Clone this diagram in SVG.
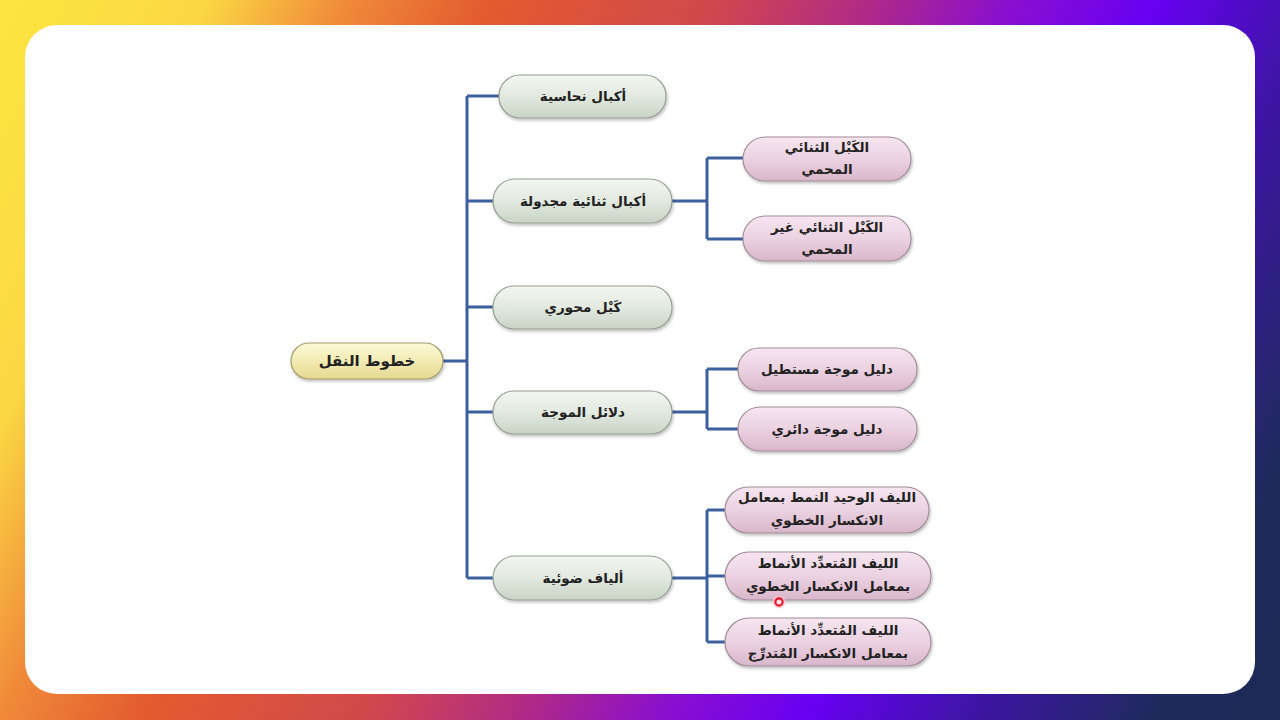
<svg xmlns="http://www.w3.org/2000/svg" width="1280" height="720" viewBox="0 0 1280 720">
<defs>
<linearGradient id="bg" gradientUnits="userSpaceOnUse" x1="0" y1="0" x2="1280" y2="622">
<stop offset="0" stop-color="#fde540"/>
<stop offset="0.13" stop-color="#fbd843"/>
<stop offset="0.22" stop-color="#f08a3a"/>
<stop offset="0.31" stop-color="#e35b2e"/>
<stop offset="0.45" stop-color="#d2484c"/>
<stop offset="0.55" stop-color="#b02a86"/>
<stop offset="0.64" stop-color="#8a0fcf"/>
<stop offset="0.73" stop-color="#6800f2"/>
<stop offset="0.83" stop-color="#3f14a8"/>
<stop offset="0.95" stop-color="#1e2a5c"/>
<stop offset="1" stop-color="#1d2a58"/>
</linearGradient>
<linearGradient id="gGreen" x1="0" y1="0" x2="0" y2="1">
<stop offset="0" stop-color="#f3f6f1"/>
<stop offset="0.5" stop-color="#e2e9df"/>
<stop offset="1" stop-color="#c8d4c5"/>
</linearGradient>
<linearGradient id="gPink" x1="0" y1="0" x2="0" y2="1">
<stop offset="0" stop-color="#f6e6f0"/>
<stop offset="0.5" stop-color="#ebd2e1"/>
<stop offset="1" stop-color="#d9b6cb"/>
</linearGradient>
<linearGradient id="gYellow" x1="0" y1="0" x2="0" y2="1">
<stop offset="0" stop-color="#fcf9d8"/>
<stop offset="0.5" stop-color="#f3ebb4"/>
<stop offset="1" stop-color="#e4d790"/>
</linearGradient>
<filter id="sh" x="-10%" y="-20%" width="120%" height="150%">
<feDropShadow dx="1" dy="2" stdDeviation="1.5" flood-color="#000" flood-opacity="0.25"/>
</filter>
</defs>
<style>
.lbl{font-family:"DejaVu Sans","Noto Sans",sans-serif;font-weight:bold;font-size:13.5px;fill:#222;text-anchor:middle;direction:rtl}
.root{font-size:15px}
.green{fill:url(#gGreen);stroke:#939d90;stroke-width:1.2;filter:url(#sh)}
.pink{fill:url(#gPink);stroke:#9f8c98;stroke-width:1.2;filter:url(#sh)}
.yellow{fill:url(#gYellow);stroke:#a49c6c;stroke-width:1.2;filter:url(#sh)}
.conn{fill:none;stroke:#3d5f9e;stroke-width:3}
</style>
<rect x="0" y="0" width="1280" height="720" fill="url(#bg)"/>
<rect x="25" y="25" width="1230" height="669" rx="32" ry="32" fill="#ffffff"/>

<g id="connectors">
<path class="conn" d="M443 361 H467 M467 96 V578 M467 96 H499 M467 201 H493 M467 307 H493 M467 412 H493 M467 578 H493"/>
<path class="conn" d="M672 201 H707 M707 158 V239 M707 158 H743 M707 239 H743"/>
<path class="conn" d="M672 412 H707 M707 369 V429 M707 369 H738 M707 429 H738"/>
<path class="conn" d="M672 578 H707 M707 510 V642 M707 510 H725 M707 576 H725 M707 642 H725"/>
</g>

<g id="root">
<rect class="yellow" x="291" y="343" width="152" height="36" rx="18"/>
<text class="lbl root" x="367" y="366">خطوط النقل</text>
</g>

<g id="n1">
<rect class="green" x="499" y="75" width="167" height="43" rx="21"/>
<text class="lbl" x="583" y="101">أكبال نحاسية</text>
</g>
<g id="n2">
<rect class="green" x="493" y="179" width="179" height="44" rx="22"/>
<text class="lbl" x="583" y="206">أكبال ثنائية مجدولة</text>
</g>
<g id="n3">
<rect class="green" x="493" y="286" width="179" height="43" rx="21"/>
<text class="lbl" x="583" y="312">كَبْل محوري</text>
</g>
<g id="n4">
<rect class="green" x="493" y="391" width="179" height="43" rx="21"/>
<text class="lbl" x="583" y="417">دلائل الموجة</text>
</g>
<g id="n5">
<rect class="green" x="493" y="556" width="179" height="44" rx="22"/>
<text class="lbl" x="583" y="583">ألياف ضوئية</text>
</g>

<g id="n2a">
<rect class="pink" x="743" y="137" width="168" height="44" rx="22"/>
<text class="lbl" x="827" y="152">الكَبْل الثنائي</text>
<text class="lbl" x="827" y="174">المحمي</text>
</g>
<g id="n2b">
<rect class="pink" x="743" y="216" width="168" height="45" rx="22"/>
<text class="lbl" x="827" y="232">الكَبْل الثنائي غير</text>
<text class="lbl" x="827" y="254">المحمي</text>
</g>
<g id="n4a">
<rect class="pink" x="738" y="348" width="179" height="43" rx="21"/>
<text class="lbl" x="827" y="374">دليل موجة مستطيل</text>
</g>
<g id="n4b">
<rect class="pink" x="738" y="407" width="179" height="44" rx="22"/>
<text class="lbl" x="827" y="434">دليل موجة دائري</text>
</g>
<g id="n5a">
<rect class="pink" x="725" y="487" width="204" height="46" rx="23"/>
<text class="lbl" x="827" y="502">الليف الوحيد النمط بمعامل</text>
<text class="lbl" x="827" y="525">الانكسار الخطوي</text>
</g>
<g id="n5b">
<rect class="pink" x="725" y="552" width="206" height="48" rx="24"/>
<text class="lbl" x="828" y="568">الليف المُتعدِّد الأنماط</text>
<text class="lbl" x="828" y="591">بمعامل الانكسار الخطوي</text>
</g>
<g id="n5c">
<rect class="pink" x="725" y="618" width="206" height="48" rx="24"/>
<text class="lbl" x="828" y="635">الليف المُتعدِّد الأنماط</text>
<text class="lbl" x="828" y="658">بمعامل الانكسار المُتدرِّج</text>
</g>

<circle cx="779" cy="602" r="6.5" fill="#f9c4ca" opacity="0.7"/>
<circle cx="779" cy="602" r="3.6" fill="#fbe3e6" stroke="#e6162c" stroke-width="2.2"/>
</svg>
